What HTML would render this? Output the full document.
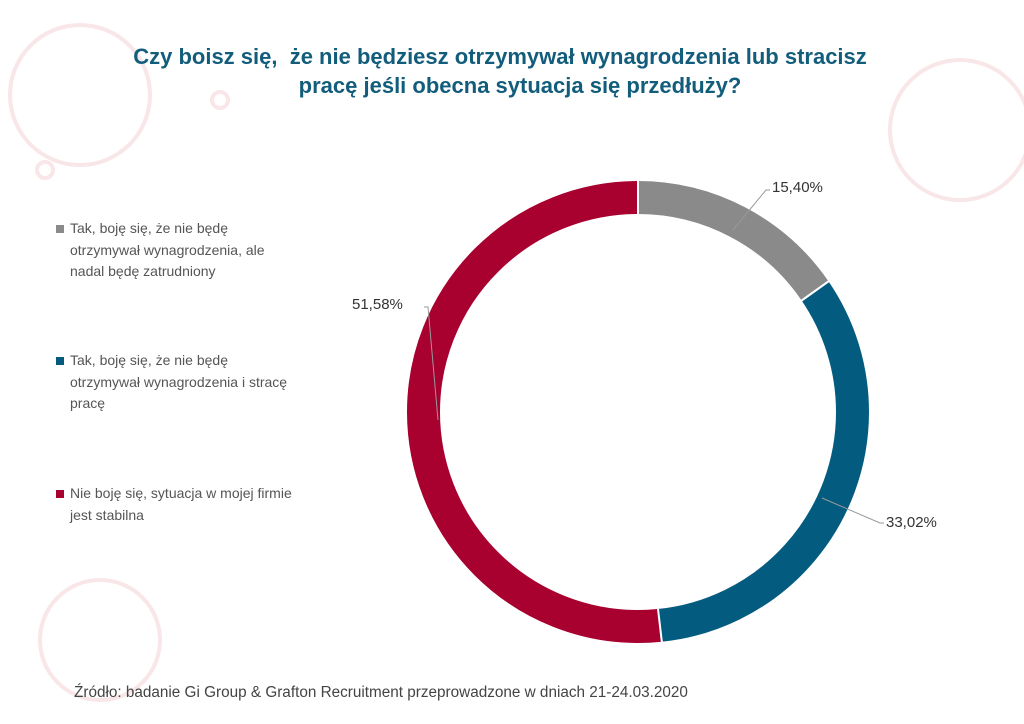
<!DOCTYPE html>
<html><head><meta charset="utf-8"><style>
body{margin:0;width:1024px;height:724px;background:#fff;overflow:hidden;font-family:"Liberation Sans",sans-serif;}
.t{position:absolute;left:0;width:1000px;text-align:center;color:#135d7c;font-weight:bold;font-size:22px;}
.lg{position:absolute;left:70px;color:#555;font-size:14px;line-height:21.5px;}
.lg span{position:absolute;left:-14px;top:7px;width:8px;height:8px;}
.l{position:absolute;color:#333;font-size:15px;}
</style></head><body>
<svg width="1024" height="724" style="position:absolute;left:0;top:0">
<g fill="none" stroke="#f8e6e8" stroke-width="4">
<circle cx="80" cy="95" r="70"/><circle cx="45" cy="170" r="8"/><circle cx="220" cy="100" r="8"/>
<circle cx="960" cy="130" r="70"/><circle cx="100" cy="640" r="60"/>
</g>
<g transform="rotate(-90 638 412)" fill="none" stroke-width="33">
<circle cx="638" cy="412" r="214.5" stroke="#8a8a8a" stroke-dasharray="207.5 2000"/>
<circle cx="638" cy="412" r="214.5" stroke="#035c80" stroke-dasharray="0 207.5 445 2000"/>
<circle cx="638" cy="412" r="214.5" stroke="#a8002f" stroke-dasharray="0 652.5 695.2 2000"/>
</g>
<g stroke="#fff" stroke-width="2">
<line x1="638" y1="179" x2="638" y2="215"/>
<line x1="829" y1="281" x2="801" y2="301"/>
<line x1="662" y1="643" x2="658" y2="609"/>
</g>
<g stroke="#999" stroke-width="1" fill="none">
<polyline points="733,230 766,190 770,190"/>
<polyline points="822,498 880,523 884,523"/>
<polyline points="424,307 428,307 438,420"/>
</g>
</svg>
<div class="t" style="top:44px">Czy boisz się,&nbsp; że nie będziesz otrzymywał wynagrodzenia lub stracisz</div>
<div class="t" style="top:73px;left:20px">pracę jeśli obecna sytuacja się przedłuży?</div>
<div class="lg" style="top:218px"><span style="background:#8a8a8a"></span>Tak, boję się, że nie będę<br>otrzymywał wynagrodzenia, ale<br>nadal będę zatrudniony</div>
<div class="lg" style="top:350px"><span style="background:#035c80"></span>Tak, boję się, że nie będę<br>otrzymywał wynagrodzenia i stracę<br>pracę</div>
<div class="lg" style="top:483px"><span style="background:#a8002f"></span>Nie boję się, sytuacja w mojej firmie<br>jest stabilna</div>
<div class="l" style="left:772px;top:179px">15,40%</div>
<div class="l" style="left:886px;top:514px">33,02%</div>
<div class="l" style="left:352px;top:296px">51,58%</div>
<div class="lg" style="left:74px;top:682px;color:#444;font-size:15.3px">Źródło: badanie Gi Group &amp; Grafton Recruitment przeprowadzone w dniach 21-24.03.2020</div>
</body></html>
